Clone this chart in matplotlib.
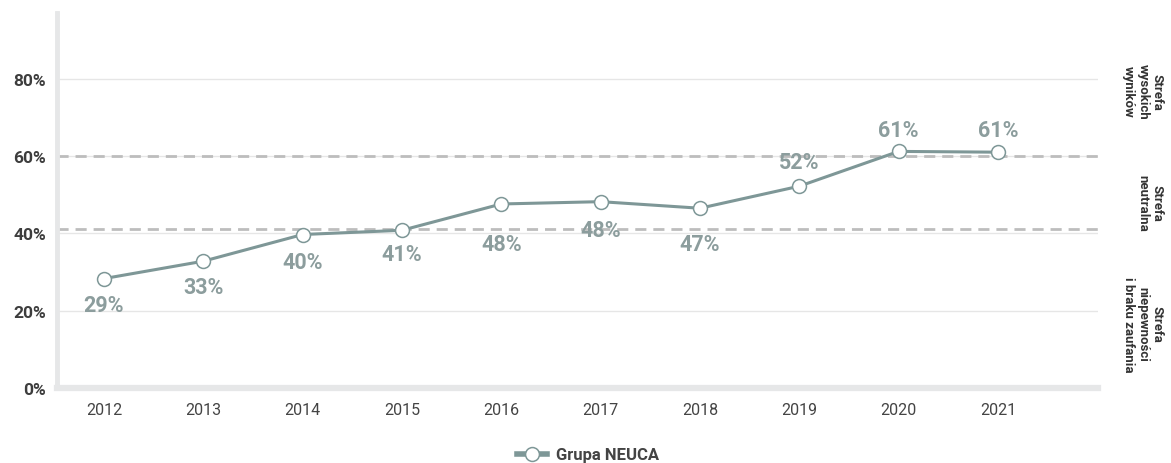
import matplotlib
matplotlib.use("Agg")
import matplotlib.pyplot as plt
from matplotlib.lines import Line2D
from matplotlib.transforms import blended_transform_factory

plt.rcParams['font.family'] = ['Roboto', 'DejaVu Sans']

# dane
lata = ["2012", "2013", "2014", "2015", "2016", "2017", "2018", "2019", "2020", "2021"]
wartosci = [28.3, 32.8, 39.7, 40.8, 47.6, 48.2, 46.5, 52.2, 61.2, 61.0]
etykiety = ["29%", "33%", "40%", "41%", "48%", "48%", "47%", "52%", "61%", "61%"]
progi = [41, 60]
yticks = [0, 20, 40, 60, 80]
strefy = ["Strefa\nwysokich\nwyników", "Strefa\nneutralna", "Strefa\nniepewności\ni braku zaufania"]
strefy_y = [76.8, 48.1, 16.6]
nazwa_serii = "Grupa NEUCA"

# przesuniecia etykiet (piksele, w pionie)
przes = [-26, -26, -27, -24, -40, -28, -36, 24, 21, 22]

kolor = "#7e9797"
kolor_etykiet = "#8c9d9d"

fig = plt.figure(figsize=(11.71, 4.64), dpi=100)
ax = fig.add_axes([57 / 1171, 1 - 389 / 464, (1098 - 57) / 1171, (389 - 14) / 464])

x = list(range(len(lata)))
ax.set_xlim(-0.473, 10.007)
ax.set_ylim(0, 97)

# siatka
for t in yticks[1:]:
    ax.axhline(t, color="#e6e6e6", linewidth=1, zorder=1)
for p in progi:
    ax.axhline(p, color="#bdbdbd", linewidth=2, linestyle=(0, (4, 2.5)), zorder=2)

ax.plot(x, wartosci, color=kolor, linewidth=2.2, marker="o", markersize=10,
        markerfacecolor="white", markeredgecolor=kolor, markeredgewidth=1.1, zorder=4)

for xi, v, lab, d in zip(x, wartosci, etykiety, przes):
    ax.annotate(lab, (xi, v), xytext=(0, d), textcoords="offset pixels",
                ha="center", va="center", fontsize=15.5, fontweight="bold",
                color=kolor_etykiet, zorder=5)

for s in ["top", "right"]:
    ax.spines[s].set_visible(False)
ax.spines["left"].set_color("#e6e7e8")
ax.spines["left"].set_linewidth(3.5)
ax.spines["bottom"].set_color("#e6e7e8")
ax.spines["bottom"].set_linewidth(4.5)

ax.set_xticks(x)
ax.set_xticklabels(lata, fontsize=11.5, color="#444444")
ax.set_yticks(yticks)
ax.set_yticklabels([f"{t}%" for t in yticks], fontsize=12.5, fontweight="bold", color="#3d3d3d")
ax.tick_params(axis="both", length=0)
ax.tick_params(axis="x", pad=10)
ax.tick_params(axis="y", pad=8)

# opisy stref po prawej
tr = blended_transform_factory(fig.transFigure, ax.transData)
for txt, yy in zip(strefy, strefy_y):
    ax.text(1164 / 1171, yy, txt, transform=tr,
            rotation=270, rotation_mode="anchor", ha="center", va="top",
            multialignment="center", fontsize=9.5, fontweight="bold", color="#333333",
            linespacing=1.15)

# legenda
uchwyt = Line2D([0], [0], color=kolor, linewidth=4, marker="o", markersize=10,
                markerfacecolor="white", markeredgecolor=kolor, markeredgewidth=1.1)
fig.legend([uchwyt], [nazwa_serii], loc="center", bbox_to_anchor=(588 / 1171, 1 - 456 / 464),
           frameon=False, prop={"weight": "bold", "size": 12}, labelcolor="#444444",
           handlelength=1.8, handletextpad=0.5)

fig.savefig("out.png", dpi=100)
